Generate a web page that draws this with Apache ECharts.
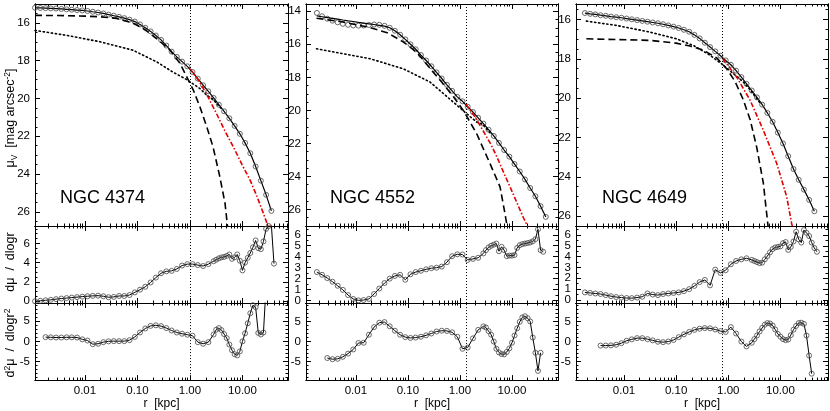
<!DOCTYPE html>
<html>
<head>
<meta charset="utf-8">
<script src="https://cdn.jsdelivr.net/npm/echarts@6/dist/echarts.min.js"></script>
<style>
html, body { margin: 0; padding: 0; background: #fff; }
#chart { width: 830px; height: 411px; }
</style>
</head>
<body>
<div id="chart"></div>
<script>
// radii of the profile samples [kpc]
const radii = [
    0.00112, 0.00141, 0.00178, 0.00224, 0.00282, 0.00355, 0.00447, 0.00562, 0.00708, 0.00891,
    0.0112, 0.0141, 0.0178, 0.0224, 0.0282, 0.0355, 0.0447, 0.0562, 0.0708, 0.0891,
    0.112, 0.141, 0.178, 0.224, 0.282, 0.355, 0.447, 0.562, 0.708, 0.891,
    1.12, 1.41, 1.78, 2.24, 2.82, 3.55, 4.47, 5.62, 7.08, 8.91,
    11.2, 14.1, 17.8, 22.4, 28.2, 35.5, 44.7
];
// radii of the derivative samples (denser outside)
const radiiDeriv = [
    0.00112, 0.00141, 0.00178, 0.00224, 0.00282, 0.00355, 0.00447, 0.00562, 0.00708, 0.00891,
    0.0112, 0.0141, 0.0178, 0.0224, 0.0282, 0.0355, 0.0447, 0.0562, 0.0708, 0.0891,
    0.112, 0.141, 0.178, 0.224, 0.282, 0.355, 0.447, 0.562, 0.708, 0.891,
    1.12, 1.41, 1.78, 2.24, 2.82,
    3.16, 3.55, 3.98, 4.47, 5.01, 5.62, 6.31, 7.08, 7.94, 8.91,
    10.0, 11.2, 12.6, 14.1, 15.8, 17.8, 20.0, 22.4, 25.1, 28.2,
    31.6, 35.5, 39.8, 44.7, 50.1
];

// ---- NGC 4374
const mu4374 = [
    15.2, 15.21, 15.22, 15.23, 15.24, 15.26, 15.28, 15.3, 15.32, 15.34,
    15.37, 15.41, 15.45, 15.5, 15.56, 15.62, 15.68, 15.75, 15.83, 15.93,
    16.08, 16.26, 16.45, 16.67, 16.9, 17.2, 17.52, 17.8, 18.05, 18.3,
    18.6, 18.95, 19.3, 19.62, 19.97, 20.33, 20.68, 21.05, 21.45, 21.87,
    22.35, 22.9, 23.6, 24.35, 25.1, 25.95, null
];
const slope4374 = [
    0.0, 0.05, 0.1, 0.15, 0.22, 0.28, 0.33, 0.38, 0.43, 0.48,
    0.52, 0.56, 0.58, 0.52, 0.42, 0.45, 0.55, 0.55, 0.65, 0.92,
    1.2, 1.5, 1.95, 2.45, 2.9, 3.1, 3.15, 3.35, 3.7, 3.85,
    3.85, 3.75, 3.65, 3.85, 4.15, 4.3, 4.45, 4.55, 4.6, 4.7,
    4.85, 4.4, 4.55, 4.85, 4.2, 3.2, 4.0, 4.5, 5.0, 5.6,
    6.3, 5.5, 5.4, 6.2, 7.5, 7.8, 7.9, 3.9, null, null
];
const curv4374 = [
    null, null, 1.05, 1.0, 0.95, 0.95, 1.0, 1.0, 0.95, 0.5,
    0.2, -0.7, -0.6, -0.2, 0.0, 0.05, 0.05, 0.05, 0.3, 1.1,
    2.2, 3.2, 3.85, 4.0, 3.8, 3.3, 2.7, 2.2, 1.9, 1.65,
    1.4, -0.2, -0.6, -0.2, 1.7, 2.9, 3.3, 2.8, 1.8, 0.8,
    -0.8, -2.2, -3.2, -3.5, -2.5, 0.0, 2.0, 4.5, 7.0, 9.0,
    8.5, 2.1, 1.7, 2.2, 14, null, null, null, null, null
];
const inner4374 = [[0.00112, 15.6], [0.003, 15.61], [0.01, 15.64], [0.02, 15.68], [0.04, 15.76], [0.08, 16.0], [0.13, 16.3], [0.235, 16.84], [0.42, 17.45], [0.65, 18.16], [0.87, 18.86], [1.16, 19.56], [1.55, 20.45], [2.09, 21.5], [2.75, 22.56], [3.7, 24.14], [4.65, 25.54], [5.2, 26.8]];
const outer4374 = [[0.00112, 16.4], [0.0045, 16.66], [0.0195, 17.0], [0.083, 17.45], [0.235, 18.07], [0.47, 18.6], [0.87, 19.0], [1.55, 19.48], [2.09, 19.83], [2.75, 20.05], [4.0, 20.55]];
const alt4374 = [[1.0, 18.42], [1.5, 19.1], [2.1, 19.8], [3.2, 20.8], [4.6, 21.7], [6.7, 22.56], [9.8, 23.5], [13.9, 24.31], [19, 25.2], [24.9, 26.07], [31, 26.8]];
const break4374 = 1.02;

// ---- NGC 4552
const mu4552 = [
    null, null, 14.1, 14.3, 14.45, 14.57, 14.67, 14.76, 14.82, 14.86,
    14.87, 14.86, 14.83, 14.8, 14.82, 14.88, 15.0, 15.18, 15.42, 15.7,
    16.0, 16.3, 16.65, 16.98, 17.33, 17.7, 18.07, 18.45, 18.82, 19.18,
    19.45, 19.78, 20.1, 20.45, 20.8, 21.17, 21.55, 21.97, 22.4, 22.8,
    23.25, 23.7, 24.18, 24.7, 25.2, 25.8, 26.45
];
const fit4552 = [
    null, null, 14.28, 14.33, 14.38, 14.43, 14.48, 14.53, 14.58, 14.62,
    14.67, 14.72, 14.76, 14.8, 14.85, 14.9, 15.0, 15.18, 15.42, 15.7,
    16.0, 16.3, 16.65, 16.98, 17.33, 17.7, 18.07, 18.45, 18.82, 19.18,
    19.45, 19.78, 20.1, 20.45, 20.8, 21.17, 21.55, 21.97, 22.4, 22.8,
    23.25, 23.7, 24.18, 24.7, 25.2, 25.8, 26.45
];
const slope4552 = [
    null, null, 2.6, 2.35, 2.05, 1.72, 1.35, 0.98, 0.5, 0.15,
    0.02, 0.05, 0.15, 0.6, 1.1, 1.6, 2.0, 2.25, 2.35, 1.9,
    2.4, 2.6, 2.72, 2.85, 2.95, 3.0, 3.1, 3.5, 4.05, 4.22,
    4.2, 3.7, 3.8, 3.9, 4.3, 4.6, 4.85, 5.0, 5.1, 5.2,
    4.5, 4.9, 4.6, 4.05, 4.1, 4.1, 4.15, 4.8, 5.05, 5.15,
    5.2, 5.25, 5.3, 5.4, 5.6, 6.5, 4.6, 4.45, null, null
];
const curv4552 = [
    null, null, null, null, -4.1, -4.4, -4.3, -3.8, -3.0, -1.97,
    -0.35, -0.3, 1.7, 3.6, 4.7, 4.85, 3.8, 2.7, 1.7, 1.1,
    0.9, 1.0, 1.2, 1.55, 2.0, 2.5, 2.7, 2.65, 2.3, 1.2,
    -1.8, -1.5, 0.8, 2.9, 3.78, 3.5, 2.6, 1.7, 0.0, -1.8,
    -2.7, -3.1, -3.2, -2.6, -1.7, -0.3, 1.5, 3.3, 4.9, 6.0,
    6.3, 5.8, 5.0, 1.0, -2.8, -7.3, -2.8, null, null, null
];
const inner4552 = [[0.00175, 14.42], [0.005, 14.62], [0.0186, 14.98], [0.04, 15.3], [0.081, 15.85], [0.15, 16.5], [0.265, 17.45], [0.45, 18.3], [0.74, 19.15], [1.16, 20.0], [2.09, 21.4], [3.78, 23.22], [5.9, 24.63], [7.33, 26.24], [8.1, 27.05]];
const outer4552 = [[0.00175, 16.27], [0.0186, 16.87], [0.081, 17.48], [0.265, 18.28], [0.74, 19.49], [1.34, 20.2], [2.09, 20.7], [2.75, 20.85], [4.0, 21.45]];
const alt4552 = [[1.3, 19.62], [2.0, 20.45], [2.75, 21.2], [4.0, 22.1], [5.1, 22.8], [7.0, 23.8], [9.1, 24.6], [12.5, 25.6], [16.6, 26.5], [20.3, 27.05]];
const break4552 = 1.3;

// ---- NGC 4649
const mu4649 = [
    null, null, 15.67, 15.71, 15.74, 15.78, 15.81, 15.85, 15.88, 15.91,
    15.95, 15.99, 16.03, 16.07, 16.11, 16.15, 16.19, 16.24, 16.3, 16.36,
    16.43, 16.52, 16.62, 16.78, 16.96, 17.18, 17.4, 17.62, 17.84, 18.08,
    18.3, 18.6, 18.93, 19.27, 19.61, 19.96, 20.33, 20.75, 21.2, 21.75,
    22.3, 22.95, 23.6, 24.15, 24.65, 25.17, 25.75
];
const slope4649 = [
    null, null, 0.7, 0.65, 0.6, 0.55, 0.45, 0.35, 0.27, 0.22,
    0.18, 0.17, 0.22, 0.3, 0.6, 0.5, 0.45, 0.55, 0.6, 0.65,
    0.7, 0.82, 1.0, 1.3, 1.65, 1.85, 1.35, 2.8, 2.5, 2.75,
    3.3, 3.6, 3.75, 3.85, 3.7, 3.6, 3.5, 3.4, 3.45, 3.75,
    4.05, 4.4, 4.7, 4.85, 4.9, 4.95, 5.25, 5.35, 4.62, 4.9,
    5.4, 6.3, 5.6, 5.3, 6.45, 6.2, 5.9, 5.3, 4.8, 4.45
];
const curv4649 = [
    null, null, null, null, null, -1.0, -1.0, -0.95, -0.8, -0.4,
    0.2, 0.55, 0.85, 0.85, 0.6, 0.3, -0.05, -0.15, 0.0, 0.4,
    1.1, 1.8, 2.4, 2.9, 3.2, 3.35, 3.3, 3.0, 2.6, 2.4,
    3.6, 2.0, 0.0, -1.2, -0.3, 0.6, 1.5, 2.5, 3.4, 4.2,
    4.6, 4.5, 4.0, 3.0, 1.9, 1.2, 0.6, 0.35, 0.5, 1.6,
    2.96, 3.9, 4.6, 4.7, 4.4, 1.5, -3.5, -8.0, null, null
];
const inner4649 = [[0.0019, 16.98], [0.0316, 17.06], [0.1, 17.2], [0.185, 17.35], [0.33, 17.55], [0.6, 17.95], [0.93, 18.5], [1.35, 19.15], [1.95, 20.1], [2.63, 21.1], [3.51, 22.5], [4.69, 24.3], [5.44, 25.86], [5.85, 26.62]];
const outer4649 = [[0.0019, 16.08], [0.0072, 16.3], [0.0316, 16.64], [0.102, 16.98], [0.214, 17.32], [0.45, 17.82], [0.81, 18.33], [1.25, 18.75], [1.95, 19.18], [2.63, 19.58], [4.0, 20.22]];
const alt4649 = [[0.78, 17.98], [1.45, 18.93], [2.63, 20.11], [4.69, 21.63], [8.5, 23.32], [13.2, 25.02], [16.4, 26.37], [17.5, 26.7]];
const break4649 = 0.78;

// tick labels
const names = ['NGC 4374', 'NGC 4552', 'NGC 4649'];
const xMajor = [0.01, 0.1, 1, 10];
const decades = [0.001, 0.01, 0.1, 1, 10];
const minorSteps = [2, 3, 4, 5, 6, 7, 8, 9];
const yLabels = [
    [[16, 18, 20, 22, 24, 26], [14, 16, 18, 20, 22, 24, 26], [16, 18, 20, 22, 24, 26]],
    [[0, 2, 4, 6], [0, 1, 2, 3, 4, 5, 6], [0, 1, 2, 3, 4, 5, 6]],
    [[-5, 0, 5], [-5, 0, 5], [-5, 0, 5]]
];

// layout
const cols = [
    {left: 35, width: 253, min: 0.00112, max: 73.6},
    {left: 306, width: 252, min: 0.0011, max: 76.7},
    {left: 576, width: 252, min: 0.0012, max: 81.7}
];
const rows = [{top: 4, height: 222}, {top: 226, height: 77}, {top: 303, height: 78}];
const yRanges = [
    [[15.0, 26.75], [13.56, 27.0], [15.21, 26.5]],
    [[-0.18, 7.8], [-0.22, 6.8], [-0.28, 6.83]],
    [[-9.65, 9.55], [-9.6, 9.6], [-9.6, 9.6]]
];
const yMinorStep = [0.5, 0.5, 1];

const gal = [
    {mu: mu4374, fit: null, slope: slope4374, curv: curv4374, inner: inner4374, outer: outer4374, alt: alt4374, rb: break4374},
    {mu: mu4552, fit: fit4552, slope: slope4552, curv: curv4552, inner: inner4552, outer: outer4552, alt: alt4552, rb: break4552},
    {mu: mu4649, fit: null, slope: slope4649, curv: curv4649, inner: inner4649, outer: outer4649, alt: alt4649, rb: break4649}
];

const FONT = 'Liberation Sans';
const xMinor = [];
decades.forEach(function (d) {
    minorSteps.forEach(function (m) { xMinor.push(+(d * m).toPrecision(3)); });
});

function minorList(lo, hi, step, majors) {
    const out = [];
    for (let v = Math.ceil(lo / step) * step; v <= hi + 1e-9; v += step) {
        const r = Math.round(v * 1000) / 1000;
        if (majors.indexOf(r) < 0) out.push(r);
    }
    return out;
}

function pairs(xs, ys) {
    const out = [];
    ys.forEach(function (y, i) {
        if (y !== null) out.push([xs[i], y]);
    });
    return out;
}

const grids = [], xAxes = [], yAxes = [], series = [];
const tickStyle = {color: '#000', width: 1};
const axisLine = {onZero: false, lineStyle: {color: '#000', width: 1}};

function yLabelStyle(values) {
    if (!values.length) return {show: false};
    return {customValues: values, margin: 5, color: '#000', fontSize: 11.5, fontFamily: FONT,
        showMinLabel: true, showMaxLabel: true, hideOverlap: false};
}

for (let row = 0; row < 3; row++) {
    for (let col = 0; col < 3; col++) {
        const g = grids.length;
        const c = cols[col], rw = rows[row];
        grids.push({left: c.left, top: rw.top, width: c.width, height: rw.height});

        // x axes: major + minor on bottom and top
        const xb = {type: 'log', logBase: 10, gridIndex: g, min: c.min, max: c.max,
            splitLine: {show: false}, axisLine: axisLine};
        const xMaj = {inside: true, length: 5, customValues: xMajor, lineStyle: tickStyle};
        const xMin = {inside: true, length: 2.5, customValues: xMinor, lineStyle: tickStyle};
        const xi = xAxes.length;
        xAxes.push(Object.assign({}, xb, {
            position: 'bottom', axisTick: xMaj,
            axisLabel: row === 2 ? {customValues: xMajor, margin: 5, color: '#000', fontSize: 11.5, fontFamily: FONT,
                showMinLabel: true, showMaxLabel: true, hideOverlap: false,
                formatter: function (v) { return v.toFixed(2); }} : {show: false},
            name: row === 2 ? 'r  [kpc]' : '', nameLocation: 'middle', nameGap: 17,
            nameTextStyle: {color: '#000', fontSize: 12, fontFamily: FONT}
        }));
        xAxes.push(Object.assign({}, xb, {position: 'top', axisTick: xMaj, axisLabel: {show: false}}));
        xAxes.push(Object.assign({}, xb, {position: 'bottom', axisTick: xMin, axisLabel: {show: false}}));
        xAxes.push(Object.assign({}, xb, {position: 'top', axisTick: xMin, axisLabel: {show: false}}));

        // y axes: major + minor on left and right; labels split over the two left axes
        const yr = yRanges[row][col];
        const labs = yLabels[row][col];
        const labsA = labs.filter(function (v, i) { return i % 2 === 0; });
        const labsB = labs.filter(function (v, i) { return i % 2 === 1; });
        const yb = {type: 'value', gridIndex: g, min: yr[0], max: yr[1], inverse: row === 0,
            splitLine: {show: false}, axisLine: axisLine};
        const yMaj = {inside: true, length: 5, customValues: labs, lineStyle: tickStyle};
        const yMin = {inside: true, length: 2.5, customValues: minorList(yr[0], yr[1], yMinorStep[row], labs), lineStyle: tickStyle};
        const yi = yAxes.length;
        yAxes.push(Object.assign({}, yb, {position: 'left', axisTick: yMaj, axisLabel: yLabelStyle(labsA)}));
        yAxes.push(Object.assign({}, yb, {position: 'right', axisTick: yMaj, axisLabel: {show: false}}));
        yAxes.push(Object.assign({}, yb, {position: 'left', axisTick: yMin, axisLabel: yLabelStyle(labsB)}));
        yAxes.push(Object.assign({}, yb, {position: 'right', axisTick: yMin, axisLabel: {show: false}}));

        const G = gal[col];
        const breakLine = {
            silent: true, symbol: ['none', 'none'], animation: false, label: {show: false},
            lineStyle: {color: '#000', type: [1, 2], width: 1},
            data: [{xAxis: G.rb}]
        };
        const common = {type: 'line', xAxisIndex: xi, yAxisIndex: yi, animation: false, emphasis: {disabled: true}};
        const circles = {symbol: 'circle', symbolSize: 5,
            itemStyle: {color: 'rgba(255,255,255,0)', borderColor: '#444', borderWidth: 0.8}};

        if (row === 0) {
            series.push(Object.assign({}, common, circles, {
                data: pairs(radii, G.mu), z: 2,
                lineStyle: G.fit ? {width: 0, opacity: 0} : {color: '#000', width: 1.2},
                markLine: breakLine
            }));
            if (G.fit) {
                series.push(Object.assign({}, common, {data: pairs(radii, G.fit), showSymbol: false, z: 3,
                    lineStyle: {color: '#000', width: 1.2}}));
            }
            series.push(Object.assign({}, common, {data: G.inner, showSymbol: false, z: 3,
                lineStyle: {color: '#000', width: 1.6, type: [7, 4]}}));
            series.push(Object.assign({}, common, {data: G.outer, showSymbol: false, z: 3,
                lineStyle: {color: '#000', width: 1.6, type: [1.3, 2.8], cap: 'round'}}));
            series.push(Object.assign({}, common, {data: G.alt, showSymbol: false, z: 3,
                lineStyle: {color: '#e00000', width: 1.6, type: [5, 2, 1.5, 2]}}));
        } else {
            series.push(Object.assign({}, common, circles, {
                data: pairs(radiiDeriv, row === 1 ? G.slope : G.curv), z: 2,
                lineStyle: {color: '#000', width: 1},
                markLine: breakLine
            }));
        }
    }
}

const graphic = [];
names.forEach(function (n, i) {
    graphic.push({type: 'text', x: [60, 330, 602][i], y: 198.5, silent: true,
        style: {text: n, fill: '#000', fontSize: 18, fontFamily: FONT, textAlign: 'left', textVerticalAlign: 'middle'}});
});
const titleRich = {
    a: {fontSize: 12.5, lineHeight: 16, fontFamily: FONT, fill: '#000'},
    s: {fontSize: 8.5, lineHeight: 8, verticalAlign: 'bottom', fontFamily: FONT, fill: '#000'},
    p: {fontSize: 8.5, lineHeight: 8, verticalAlign: 'top', fontFamily: FONT, fill: '#000'}
};
[
    {t: '{a|μ}{s|V}{a|  [mag arcsec}{p|-2}{a|]}', y: 118},
    {t: '{a|dμ  /  dlogr}', y: 262},
    {t: '{a|d}{p|2}{a|μ  /  dlogr}{p|2}', y: 343}
].forEach(function (o) {
    graphic.push({type: 'text', x: 11, y: o.y, rotation: Math.PI / 2, silent: true,
        style: {text: o.t, rich: titleRich, fontFamily: FONT, fontSize: 12.5, fill: '#000', textAlign: 'center', textVerticalAlign: 'middle'}});
});

const chart = echarts.init(document.getElementById('chart'));
chart.setOption({
    animation: false,
    backgroundColor: '#fff',
    textStyle: {fontFamily: FONT},
    grid: grids,
    xAxis: xAxes,
    yAxis: yAxes,
    series: series,
    graphic: graphic
});
</script>
</body>
</html>
